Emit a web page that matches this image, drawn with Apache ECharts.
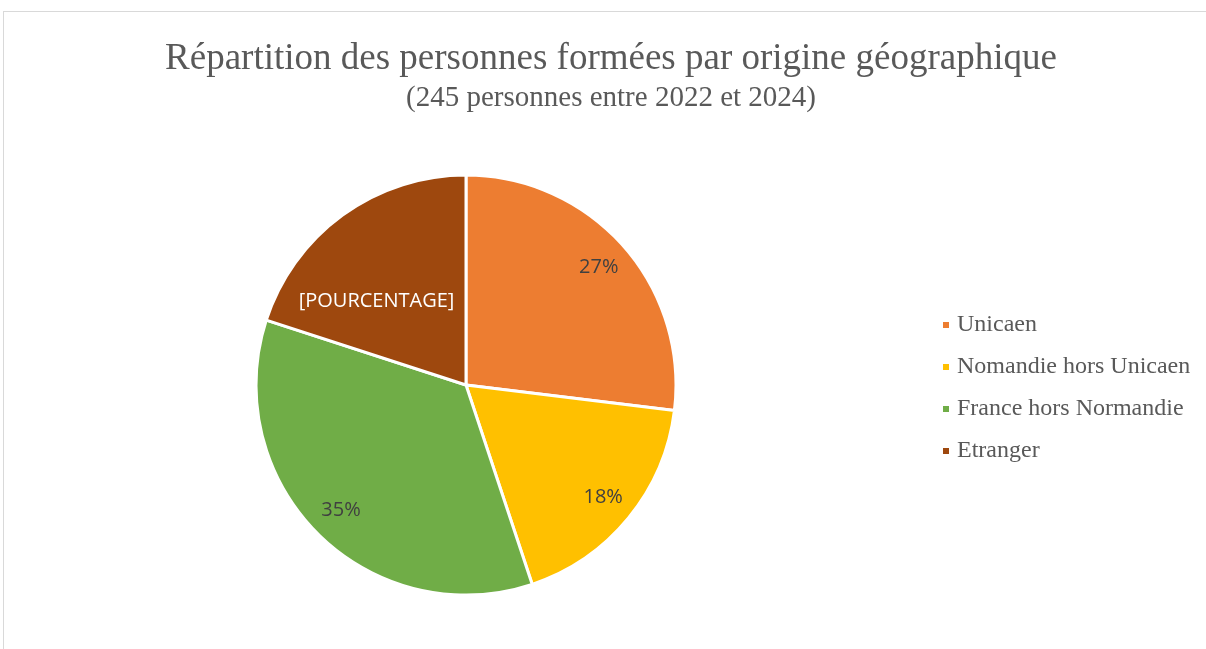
<!DOCTYPE html>
<html>
<head>
<meta charset="utf-8">
<script src="https://cdn.jsdelivr.net/npm/echarts@6/dist/echarts.min.js"></script>
<style>
  html, body { margin: 0; padding: 0; width: 1206px; height: 649px; overflow: hidden; background: #fff; }
  #chart {
    position: absolute; left: 3px; top: 11px;
    width: 1214px; height: 660px;
    border-left: 1px solid #d9d9d9; border-top: 1px solid #d9d9d9;
  }
</style>
</head>
<body>
<div id="chart"></div>
<script>
// données (245 personnes)
const categories = ['Unicaen', 'Nomandie hors Unicaen', 'France hors Normandie', 'Etranger']
const counts = [66, 44, 86, 49]
const colors = ['#ED7D31', '#FFC000', '#70AD47', '#9E480E']

const chart = echarts.init(document.getElementById('chart'))

const total = counts.reduce((a, b) => a + b, 0)
const cx = 462, cy = 373, R = 210

const mainData = categories.map((name, i) => ({
  name,
  value: counts[i],
  itemStyle: { color: colors[i] },
  // l'étiquette de "Etranger" n'a pas été remplie dans l'original
  label: name === 'Etranger'
    ? { show: true, position: 'inside', formatter: '[POURCENTAGE]', color: '#fff', fontSize: 20, fontFamily: 'Open Sans', offset: [-26, 4] }
    : { show: false }
}))

const labelData = categories.map((name, i) => ({
  name,
  value: counts[i],
  label: { show: name !== 'Etranger' }
}))

chart.setOption({
  animation: false,
  title: [
    {
      text: 'Répartition des personnes formées par origine géographique',
      left: 'center',
      top: 24,
      textStyle: { fontFamily: 'Liberation Serif', fontSize: 37, fontWeight: 'normal', color: '#595959' }
    },
    {
      text: '(245 personnes entre 2022 et 2024)',
      left: 'center',
      top: 67,
      textStyle: { fontFamily: 'Liberation Serif', fontSize: 29, fontWeight: 'normal', color: '#595959' }
    }
  ],
  legend: {
    orient: 'vertical',
    left: 937,
    top: 301,
    padding: 0,
    itemWidth: 8,
    itemHeight: 8,
    itemGap: 18,
    icon: 'rect',
    data: categories,
    textStyle: { fontFamily: 'Liberation Serif', fontSize: 24, color: '#595959', lineHeight: 24, padding: [0, 0, 0, 2] }
  },
  series: [
    {
      type: 'pie',
      center: [cx, cy],
      radius: [0, R],
      startAngle: 90,
      clockwise: true,
      itemStyle: { borderColor: '#fff', borderWidth: 3 },
      labelLine: { show: false },
      emphasis: { disabled: true },
      data: mainData
    },
    {
      // série transparente qui porte les pourcentages
      type: 'pie',
      silent: true,
      center: [cx, cy],
      radius: [R * 0.66, R],
      startAngle: 90,
      clockwise: true,
      itemStyle: { color: 'rgba(0,0,0,0)', borderWidth: 0 },
      label: {
        position: 'inside',
        formatter: p => Math.round(p.value / total * 100) + '%',
        fontFamily: 'Open Sans',
        fontSize: 20,
        color: '#404040'
      },
      labelLine: { show: false },
      data: labelData
    }
  ]
})
</script>
</body>
</html>
